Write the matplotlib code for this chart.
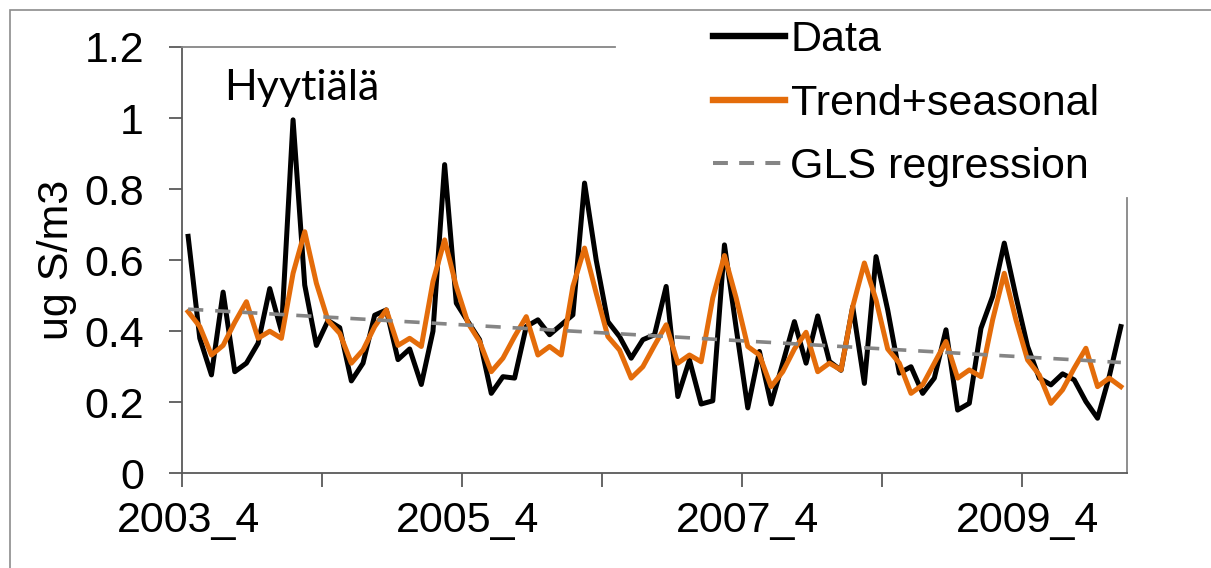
import numpy as np
import matplotlib
matplotlib.use("Agg")
import matplotlib.pyplot as plt
from matplotlib.lines import Line2D
from matplotlib.patches import Rectangle

# ---- data ----
categories = [f"{y}_{m}" for y in range(2003, 2010) for m in range(1, 13)][3:]  # 2003_4 .. 2009_12

data = [0.667, 0.38, 0.277, 0.51, 0.286, 0.31, 0.366, 0.52, 0.40, 0.995,
        0.53, 0.36, 0.43, 0.41, 0.26, 0.31, 0.445, 0.46, 0.32, 0.35,
        0.25, 0.40, 0.869, 0.479, 0.427, 0.376, 0.225, 0.272, 0.268, 0.413,
        0.432, 0.39, 0.418, 0.446, 0.817, 0.60, 0.427, 0.385, 0.324, 0.376,
        0.39, 0.526, 0.216, 0.319, 0.195, 0.204, 0.643, 0.41, 0.184, 0.343,
        0.195, 0.31, 0.427, 0.31, 0.443, 0.315, 0.29, 0.469, 0.253, 0.61,
        0.46, 0.282, 0.30, 0.225, 0.268, 0.404, 0.178, 0.197, 0.408, 0.498,
        0.648, 0.498, 0.357, 0.268, 0.249, 0.28, 0.263, 0.202, 0.155, 0.272,
        0.413]

trend_seasonal = [0.455, 0.413, 0.333, 0.36, 0.425, 0.483, 0.38, 0.40, 0.38, 0.563,
                  0.68, 0.535, 0.43, 0.394, 0.31, 0.347, 0.413, 0.46, 0.36, 0.38,
                  0.357, 0.54, 0.657, 0.526, 0.423, 0.371, 0.286, 0.324, 0.385, 0.441,
                  0.333, 0.357, 0.333, 0.526, 0.634, 0.507, 0.385, 0.347, 0.268, 0.30,
                  0.36, 0.418, 0.31, 0.333, 0.314, 0.494, 0.613, 0.494, 0.357, 0.333,
                  0.244, 0.286, 0.35, 0.397, 0.286, 0.31, 0.291, 0.469, 0.592, 0.488,
                  0.35, 0.31, 0.225, 0.249, 0.31, 0.371, 0.268, 0.291, 0.272, 0.432,
                  0.563, 0.432, 0.319, 0.277, 0.197, 0.235, 0.296, 0.352, 0.244, 0.268,
                  0.244]

gls_start_end = [0.462, 0.312]

label_months = ["2003_4", "2005_4", "2007_4", "2009_4"]
y_ticks = [0, 0.2, 0.4, 0.6, 0.8, 1.0, 1.2]
y_tick_labels = ["0", "0.2", "0.4", "0.6", "0.8", "1", "1.2"]

# ---- style ----
plt.rcParams['font.family'] = ['Liberation Sans', 'DejaVu Sans']
FS = 31
W, H = 1211, 568
fig = plt.figure(figsize=(W / 100, H / 100), dpi=100)
fig.patch.set_facecolor('white')

left, right, top, bottom = 182.3, 1126.7, 47.0, 473.3
ax = fig.add_axes([left / W, 1 - bottom / H, (right - left) / W, (bottom - top) / H])

x = np.arange(len(categories))
orange = '#E46C0A'
gray = '#858585'
ax.plot(x, data, color='black', lw=3.6, solid_joinstyle='round')
ax.plot(x, trend_seasonal, color=orange, lw=3.6, solid_joinstyle='round')
ax.plot([x[0], x[-1]], gls_start_end, color=gray, lw=2.6, dashes=(4.2, 3.3))

ax.set_xlim(-0.5, len(categories) - 0.5)
ax.set_ylim(0, 1.2)

ax.set_yticks(y_ticks, y_tick_labels)
ax.tick_params(axis='y', direction='out', length=9.5, width=1.3, color='#595959',
               pad=18, labelsize=FS)

ax.set_xticks([categories.index(l) for l in label_months], label_months)
ax.set_xticks(np.arange(-0.5, len(categories), 12), minor=True)
ax.tick_params(axis='x', which='major', length=0, pad=20, labelsize=FS)
ax.tick_params(axis='x', which='minor', direction='out', length=10, width=1.3, color='#595959')

for s in ['left', 'bottom']:
    ax.spines[s].set_color('#595959')
    ax.spines[s].set_linewidth(1.3)
for s in ['top', 'right']:
    ax.spines[s].set_color('#868686')
    ax.spines[s].set_linewidth(1.3)
ax.spines['top'].set_bounds(-0.5, 36.6)
ax.spines['right'].set_bounds(0, 0.775)

ax.set_ylabel('ug S/m3', fontsize=FS)
ax.yaxis.set_label_coords(-0.112, 0.5)

fig.text(224.6 / W, 1 - 100 / H, 'Hyytiälä', fontsize=FS, family=['Lato', 'DejaVu Sans'],
         ha='left', va='baseline')

handles = [Line2D([], [], color='black', lw=4.6),
           Line2D([], [], color=orange, lw=4.6),
           Line2D([], [], color=gray, lw=2.9, dashes=(3.7, 2.8))]
labels = ['Data', 'Trend+seasonal', 'GLS regression']
ax.legend(handles, labels, loc='upper left', bbox_to_anchor=(713 / W, 1 - 20 / H),
          bbox_transform=fig.transFigure, frameon=False, borderpad=0, borderaxespad=0,
          handlelength=1.68, handletextpad=0.12, labelspacing=0.55, fontsize=FS)

# outer chart-area border (only top and left edges are visible)
fig.add_artist(Rectangle((9.5 / W, -0.5), 2.0, (1 - 9.5 / H) + 0.5, transform=fig.transFigure,
                         fill=False, edgecolor='#8c8c8c', lw=1.2, clip_on=False))

fig.savefig('out.png', dpi=100)
